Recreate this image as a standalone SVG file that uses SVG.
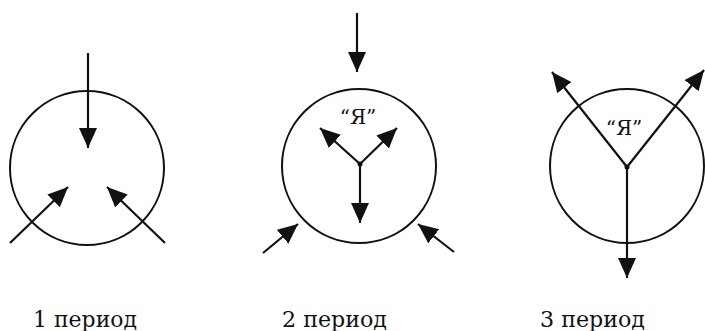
<svg xmlns="http://www.w3.org/2000/svg" width="705" height="331" viewBox="0 0 705 331">
<style>
.c{fill:none;stroke:#111;stroke-width:2}
.a{fill:none;stroke:#111;stroke-width:2.2;marker-end:url(#ah)}
.l{font-family:'DejaVu Serif','Liberation Serif',serif;font-size:23px;fill:#111}
.y{font-family:'DejaVu Serif','Liberation Serif',serif;font-size:20px;fill:#111}
.d{fill:#111}
</style>
<defs>
<marker id="ah" markerUnits="userSpaceOnUse" markerWidth="22" markerHeight="20" refX="20" refY="9" orient="auto">
<path d="M0,0 L20,9 L0,18 z" fill="#111"/>
</marker>
</defs>
<g id="period1">
<circle class="c" cx="87" cy="168" r="77"/>
<text class="l" x="33" y="327" textLength="104" lengthAdjust="spacingAndGlyphs">1 период</text>
</g>
<g id="period2">
<circle class="c" cx="359" cy="166" r="77"/>
<circle class="d" cx="360" cy="164" r="2.5"/>
<text class="y" x="358" y="124" text-anchor="middle">“Я”</text>
<text class="l" x="282" y="327" textLength="105" lengthAdjust="spacingAndGlyphs">2 период</text>
</g>
<g id="period3">
<circle class="c" cx="627" cy="166" r="77"/>
<circle class="d" cx="627" cy="167" r="2.5"/>
<text class="y" x="624" y="135" text-anchor="middle">“Я”</text>
<text class="l" x="540" y="327" textLength="105" lengthAdjust="spacingAndGlyphs">3 период</text>
</g>
<g id="connectors">
<line class="a" x1="88" y1="53" x2="88" y2="148"/>
<line class="a" x1="10" y1="243" x2="68" y2="187"/>
<line class="a" x1="165" y1="243" x2="107" y2="187"/>
<line class="a" x1="357" y1="13" x2="357" y2="72"/>
<line class="a" x1="360" y1="164" x2="320" y2="128"/>
<line class="a" x1="360" y1="164" x2="397" y2="128"/>
<line class="a" x1="360" y1="164" x2="360" y2="223"/>
<line class="a" x1="263" y1="253" x2="298" y2="224"/>
<line class="a" x1="454" y1="252" x2="418" y2="224"/>
<line class="a" x1="627" y1="167" x2="552" y2="72"/>
<line class="a" x1="627" y1="167" x2="704" y2="70"/>
<line class="a" x1="627" y1="167" x2="627" y2="278"/>
</g>
</svg>
